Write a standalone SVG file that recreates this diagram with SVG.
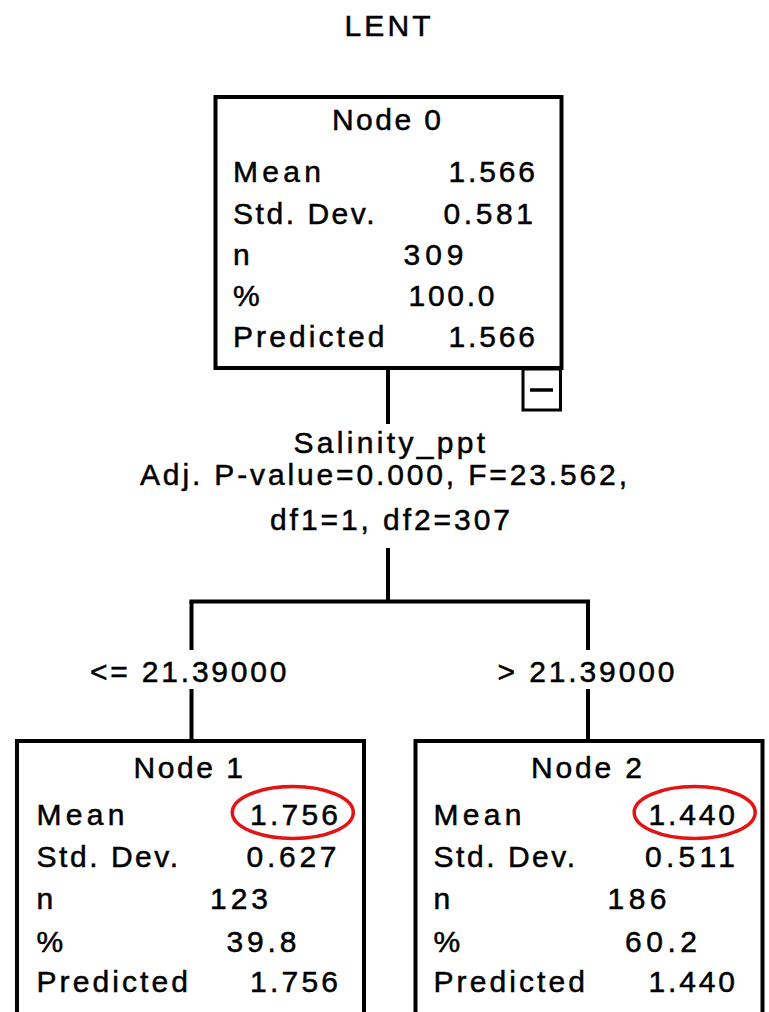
<svg xmlns="http://www.w3.org/2000/svg" width="769" height="1012" viewBox="0 0 769 1012">
<style>
text { font-family: "Liberation Sans", Arial, sans-serif; font-size: 30px; fill: #000; stroke: #000; stroke-width: 0.5; }
.box { fill: #fff; stroke: #000; stroke-width: 4; }
.ln { stroke: #000; stroke-width: 4; fill: none; }
.mark { fill: none; stroke: #e31414; stroke-width: 3.5; }
</style>
<rect width="769" height="1012" fill="#fff"/>
<text id="title" x="344.5" y="36" textLength="86" lengthAdjust="spacing">LENT</text>

<g id="connectors">
  <line class="ln" x1="388" y1="369" x2="388" y2="424"/>
  <line class="ln" x1="388" y1="548" x2="388" y2="601.5"/>
  <line class="ln" x1="189.5" y1="601.5" x2="590" y2="601.5"/>
  <line class="ln" x1="191.5" y1="601.5" x2="191.5" y2="650"/>
  <line class="ln" x1="191.5" y1="689" x2="191.5" y2="741"/>
  <line class="ln" x1="588" y1="601.5" x2="588" y2="650"/>
  <line class="ln" x1="588" y1="689" x2="588" y2="741"/>
  <g id="split-label">
    <text x="293.5" y="453" textLength="191.5" lengthAdjust="spacing">Salinity_ppt</text>
    <text x="140" y="485" textLength="487" lengthAdjust="spacing">Adj. P-value=0.000, F=23.562,</text>
    <text x="270" y="530" textLength="240" lengthAdjust="spacing">df1=1, df2=307</text>
  </g>
  <text x="90" y="681.5" textLength="196.5" lengthAdjust="spacing">&lt;= 21.39000</text>
  <text x="497.5" y="681.5" textLength="177" lengthAdjust="spacing">&gt; 21.39000</text>
</g>

<g id="node0">
  <rect class="box" x="215.5" y="97" width="346" height="271"/>
  <rect x="523" y="369" width="37.5" height="41" fill="#fff" stroke="#000" stroke-width="3"/>
  <line x1="530" y1="390" x2="553" y2="390" stroke="#000" stroke-width="3.5"/>
  <text x="332" y="130" textLength="109" lengthAdjust="spacing">Node 0</text>
  <text x="233" y="182" textLength="88" lengthAdjust="spacing">Mean</text>
  <text x="448.5" y="182" textLength="86.5" lengthAdjust="spacing">1.566</text>
  <text x="233" y="223.5" textLength="141.5" lengthAdjust="spacing">Std. Dev.</text>
  <text x="443.5" y="223.5" textLength="89.5" lengthAdjust="spacing">0.581</text>
  <text x="233" y="265">n</text>
  <text x="403.5" y="265" textLength="60" lengthAdjust="spacing">309</text>
  <text x="233" y="305.5">%</text>
  <text x="408.5" y="305.5" textLength="86" lengthAdjust="spacing">100.0</text>
  <text x="233" y="347" textLength="151.5" lengthAdjust="spacing">Predicted</text>
  <text x="448.5" y="347" textLength="86.5" lengthAdjust="spacing">1.566</text>
</g>

<g id="node1">
  <rect class="box" x="17" y="741" width="347" height="300"/>
  <text x="133.5" y="778" textLength="109.5" lengthAdjust="spacing">Node 1</text>
  <text x="36.5" y="825" textLength="88" lengthAdjust="spacing">Mean</text>
  <text x="250" y="825" textLength="88" lengthAdjust="spacing">1.756</text>
  <ellipse class="mark" cx="292.8" cy="812.5" rx="60.5" ry="26"/>
  <text x="36.5" y="867" textLength="141.5" lengthAdjust="spacing">Std. Dev.</text>
  <text x="246.5" y="867" textLength="90" lengthAdjust="spacing">0.627</text>
  <text x="36.5" y="908.5">n</text>
  <text x="210" y="908.5" textLength="58" lengthAdjust="spacing">123</text>
  <text x="36.5" y="951.5">%</text>
  <text x="226.5" y="951.5" textLength="70" lengthAdjust="spacing">39.8</text>
  <text x="36.5" y="991.5" textLength="151.5" lengthAdjust="spacing">Predicted</text>
  <text x="250" y="991.5" textLength="88" lengthAdjust="spacing">1.756</text>
</g>

<g id="node2">
  <rect class="box" x="415.5" y="741" width="347" height="300"/>
  <text x="531" y="778" textLength="111" lengthAdjust="spacing">Node 2</text>
  <text x="433.5" y="825" textLength="88" lengthAdjust="spacing">Mean</text>
  <text x="648.5" y="825" textLength="86.5" lengthAdjust="spacing">1.440</text>
  <ellipse class="mark" cx="694.7" cy="812.5" rx="60.5" ry="26"/>
  <text x="433.5" y="867" textLength="141.5" lengthAdjust="spacing">Std. Dev.</text>
  <text x="645" y="867" textLength="90" lengthAdjust="spacing">0.511</text>
  <text x="433.5" y="908.5">n</text>
  <text x="607.5" y="908.5" textLength="59" lengthAdjust="spacing">186</text>
  <text x="433.5" y="951.5">%</text>
  <text x="625" y="951.5" textLength="72" lengthAdjust="spacing">60.2</text>
  <text x="433.5" y="991.5" textLength="151.5" lengthAdjust="spacing">Predicted</text>
  <text x="648.5" y="991.5" textLength="86.5" lengthAdjust="spacing">1.440</text>
</g>
</svg>
